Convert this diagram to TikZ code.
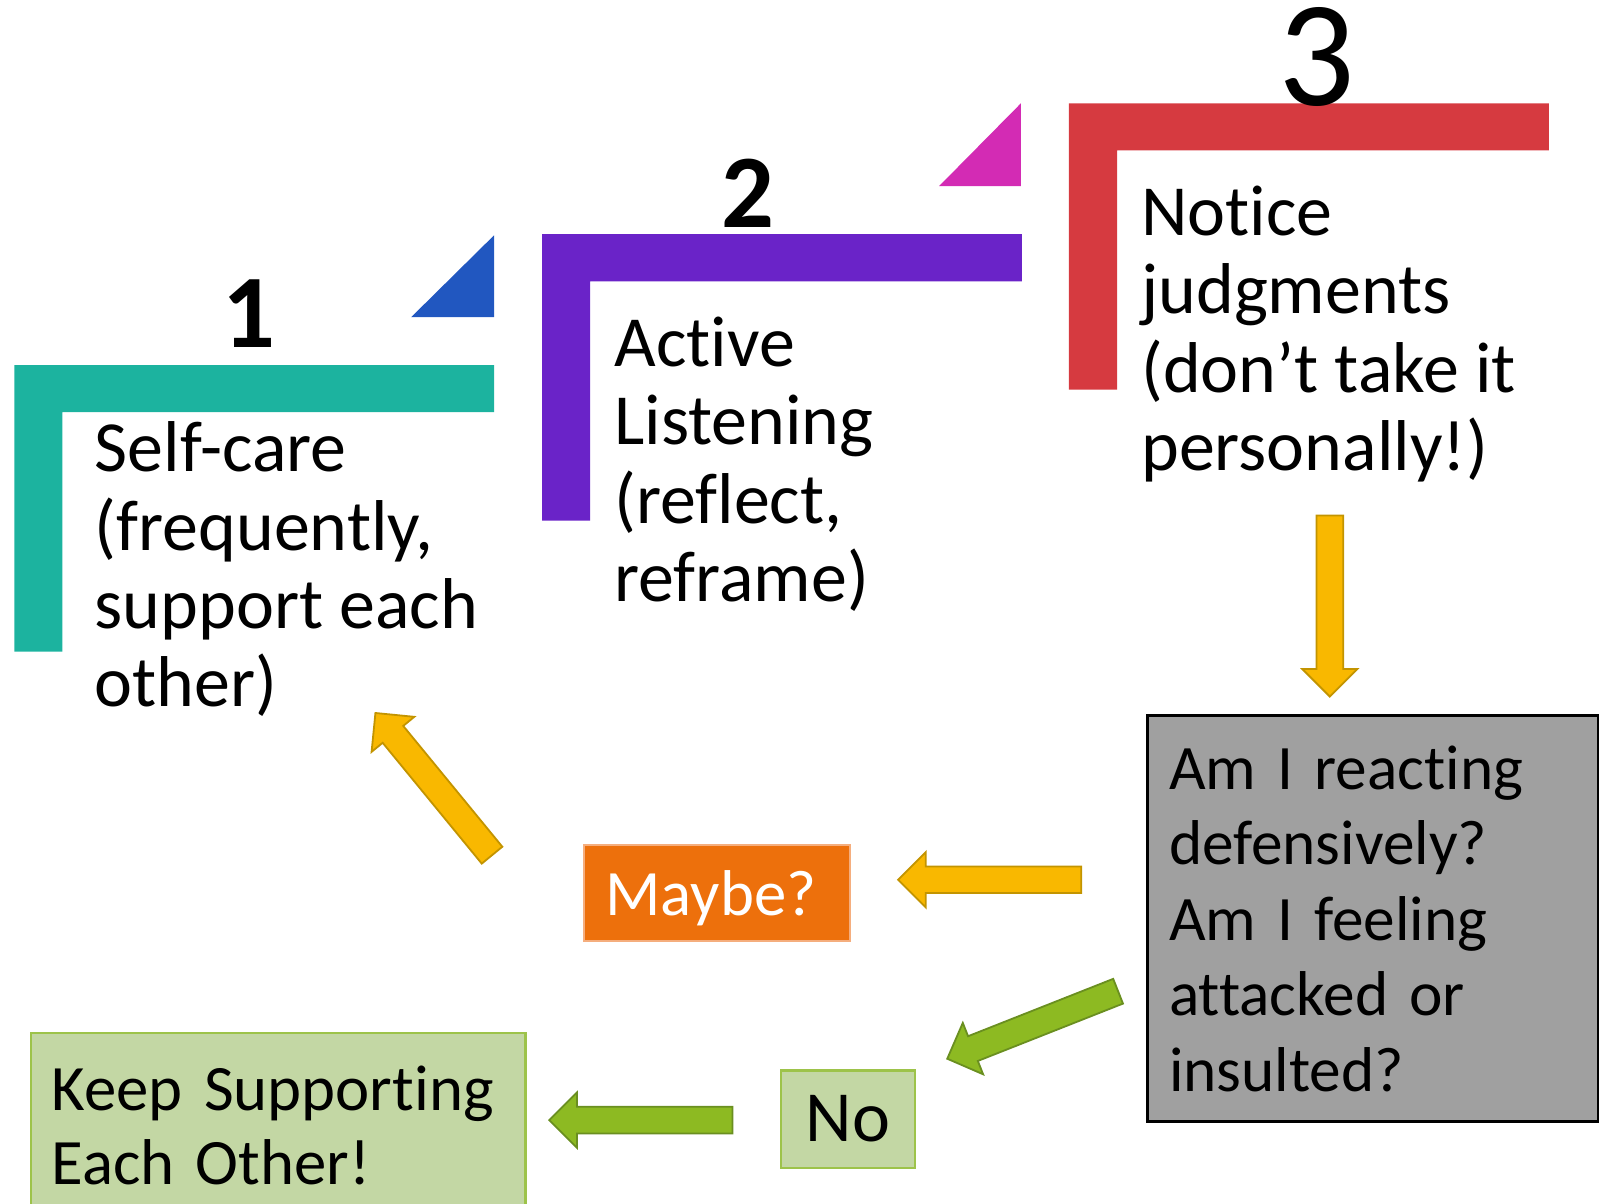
\documentclass[tikz,border=0pt]{standalone}
\usepackage{fontspec}
\setmainfont{Carlito}[Ligatures=NoCommon]
\usetikzlibrary{calc}

\definecolor{tealbar}{HTML}{1CB39F}
\definecolor{purplebar}{HTML}{6A23C8}
\definecolor{redbar}{HTML}{D63A40}
\definecolor{bluetri}{HTML}{2157C0}
\definecolor{pinktri}{HTML}{D32BB4}
\definecolor{yellowarr}{HTML}{F9B800}
\definecolor{yellowedge}{HTML}{C39400}
\definecolor{greenarr}{HTML}{8DBA22}
\definecolor{greenedge}{HTML}{6A8F20}
\definecolor{greybox}{HTML}{A0A0A0}
\definecolor{orangebox}{HTML}{ED700C}
\definecolor{orangeedge}{HTML}{F5AE7E}
\definecolor{paleGreen}{HTML}{C3D7A4}
\definecolor{paleEdge}{HTML}{9DC34A}

% block arrow: style, tail, tip
\newcommand{\blockarrow}[3]{%
  \coordinate (ba) at ($(#3)!0.27cm!(#2)$);
  \path[#1] ($(#2)!0.13cm!90:(#3)$) -- ($(ba)!0.13cm!-90:(#2)$)
    -- ($(ba)!0.27cm!-90:(#2)$) -- (#3) -- ($(ba)!0.27cm!90:(#2)$)
    -- ($(ba)!0.13cm!90:(#2)$) -- ($(#2)!0.13cm!-90:(#3)$) -- cycle;
}

\begin{document}
\begin{tikzpicture}[x=0.01cm, y=-0.01cm,
    body/.style={anchor=base west, inner sep=0pt, align=left,
      font=\fontsize{20}{21.8}\selectfont},
    numlabel/.style={anchor=base, inner sep=0pt, font=\fontsize{29}{30}\selectfont\bfseries},
    answer/.style={draw=paleEdge, fill=paleGreen, line width=0.6pt},
    yarrow/.style={draw=yellowedge, fill=yellowarr, line width=0.5pt},
    garrow/.style={draw=greenedge, fill=greenarr, line width=0.5pt}]
    \useasboundingbox (0,0) rectangle (1568,1177);
    \clip (0,0) rectangle (1568,1177);
    % steps
    \foreach \c/\dx/\dy in {tealbar/0/0, purplebar/516/-128, redbar/1031/-256}
      \path[fill=\c, shift={(\dx,\dy)}](14,357)--++(469,0)--++(0,46)--++(-422,0)--++(0,234)--++(-47,0)--cycle;
    \path[fill=bluetri](402,310)--(483,310)--(483,230)--cycle;
    \path[fill=pinktri](918,182)--(998,182)--(998,101)--cycle;
    \node[numlabel] (one) at (243,340) {1};
    \node[numlabel] (two) at (731,222) {2};
    \node[numlabel, font=\fontsize{42}{44}\selectfont] (three) at (1287,103) {3};
    % anchored at the last line
    \node[body] (selfcare) at (92,691) {Self-care\\(frequently,\\support each\\other)};
    \node[body] (listen) at (600,588) {Active\\Listening\\(reflect,\\reframe)};
    \node[body] (notice) at (1115,460) {Notice\\judgments\\(don’t take it\\personally!)};
    % boxes
    \node[draw=black, fill=greybox, line width=0.8pt, minimum width=4.40cm, minimum height=3.97cm,
      inner xsep=0.21cm, text width=3.98cm, align=left, font=\fontsize{17.6}{21}\selectfont]
      (question) at (1342,898) {Am I reacting\\defensively?\\Am I feeling\\attacked or\\insulted?};
    \node[draw=orangeedge, fill=orangebox, text=white, line width=0.6pt, minimum width=2.6cm,
      minimum height=0.94cm, inner xsep=0.21cm, text width=2.18cm, text depth=0pt, align=left,
      font=\fontsize{18}{20}\selectfont] (maybe) at (701,873) {Maybe?};
    \node[answer, minimum width=1.31cm, minimum height=0.95cm,
      font=\fontsize{20}{21}\selectfont] (no) at (829,1094) {No};
    \node[answer, minimum width=4.83cm, minimum height=1.8cm, inner xsep=0.2cm,
      text width=4.43cm, align=left, font=\fontsize{18}{20.7}\selectfont]
      (keep) at (272,1100) {Keep Supporting\\Each Other!};
    % arrows
    \coordinate (a1) at (1300,504); \coordinate (b1) at (1300,681);
    \coordinate (a2) at (1057,860); \coordinate (b2) at (878,860);
    \coordinate (a3) at (481,836);  \coordinate (b3) at (367,697);
    \coordinate (a4) at (1093,969); \coordinate (b4) at (926,1035);
    \coordinate (a5) at (716,1095); \coordinate (b5) at (537,1095);
    \blockarrow{yarrow}{a1}{b1}
    \blockarrow{yarrow}{a2}{b2}
    \blockarrow{yarrow}{a3}{b3}
    \blockarrow{garrow}{a4}{b4}
    \blockarrow{garrow}{a5}{b5}
\end{tikzpicture}
\end{document}
